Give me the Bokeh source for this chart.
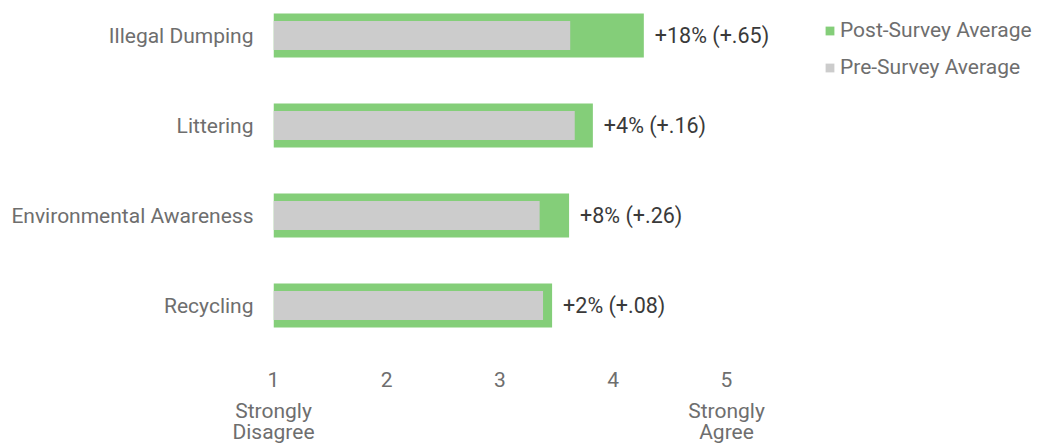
from bokeh.plotting import figure
from bokeh.models import Range1d, FixedTicker, LinearAxis, Legend, LegendItem, ColumnDataSource
from bokeh.core.properties import value
from bokeh.embed import file_html
from bokeh.resources import INLINE

categories = ["Illegal Dumping", "Littering", "Environmental Awareness", "Recycling"]
pre_avg = [3.62, 3.66, 3.35, 3.38]
post_avg = [4.27, 3.82, 3.61, 3.46]
change_labels = ["+18% (+.65)", "+4% (+.16)", "+8% (+.26)", "+2% (+.08)"]
scale_ticks = [1, 2, 3, 4, 5]
scale_tick_labels = ["1", "2", "3", "4", "5"]
anchor_ticks = [1, 5]
anchor_labels = ["Strongly\nDisagree", "Strongly\nAgree"]

GREEN = "#84ce79"
GREY = "#cccccc"
FONT = "Roboto"

n = len(categories)
ypos = [n - 1 - i for i in range(n)]
src = ColumnDataSource(dict(y=ypos, cat=categories, pre=pre_avg, post=post_avg,
                            lab=change_labels, base=[1] * n))

W, H = 1036, 445
LEFT = 273
TOP = 10
FRAME_H = 350
PX_PER_UNIT = 113.25
p = figure(width=W, height=H, output_backend="svg", toolbar_location=None,
           frame_width=W - LEFT, frame_height=FRAME_H,
           x_range=Range1d(1, 1 + (W - LEFT) / PX_PER_UNIT),
           y_range=Range1d(-0.6111, 3.2778),
           min_border_left=LEFT, min_border_right=0, min_border_top=TOP,
           min_border_bottom=H - TOP - FRAME_H,
           x_axis_type=None, y_axis_type=None)
p.outline_line_color = None
p.background_fill_color = "white"
p.border_fill_color = "white"

r_post = p.hbar(y="y", left="base", right="post", height=0.489, fill_color=GREEN,
                line_color=None, source=src)
r_pre = p.hbar(y="y", left="base", right="pre", height=0.322, fill_color=GREY,
               line_color=None, source=src)

p.text(x="post", y="y", text="lab", x_offset=11, text_baseline="middle", text_align="left",
       text_font=value(FONT), text_font_size="21.5px", text_color="#3a3a3a", source=src)


def style_axis(ax, standoff):
    ax.axis_line_color = None
    ax.major_tick_line_color = None
    ax.minor_tick_line_color = None
    ax.major_tick_in = 0
    ax.major_tick_out = 0
    ax.major_label_standoff = standoff
    ax.major_label_text_font = FONT
    ax.major_label_text_font_size = "21px"
    ax.major_label_text_color = "#6e6e6e"


yax = LinearAxis(ticker=FixedTicker(ticks=ypos),
                 major_label_overrides={y: c for y, c in zip(ypos, categories)})
style_axis(yax, 20)
p.add_layout(yax, "left")

ax1 = LinearAxis(ticker=FixedTicker(ticks=scale_ticks),
                 major_label_overrides={t: l for t, l in zip(scale_ticks, scale_tick_labels)})
style_axis(ax1, 11)
p.add_layout(ax1, "below")

ax2 = LinearAxis(ticker=FixedTicker(ticks=anchor_ticks),
                 major_label_overrides={t: l for t, l in zip(anchor_ticks, anchor_labels)})
style_axis(ax2, 9)
ax2.major_label_text_line_height = 0.9
p.add_layout(ax2, "below")

legend = Legend(items=[LegendItem(label="Post-Survey Average", renderers=[r_post]),
                       LegendItem(label="Pre-Survey Average", renderers=[r_pre])],
                location=(551, 281), padding=0, margin=0, spacing=13,
                glyph_width=11, glyph_height=11, label_standoff=5,
                label_text_font=FONT, label_text_font_size="21px",
                label_text_color="#6e6e6e", border_line_color=None,
                background_fill_alpha=0)
p.add_layout(legend)

open("out.html", "w").write(file_html(p, INLINE))
